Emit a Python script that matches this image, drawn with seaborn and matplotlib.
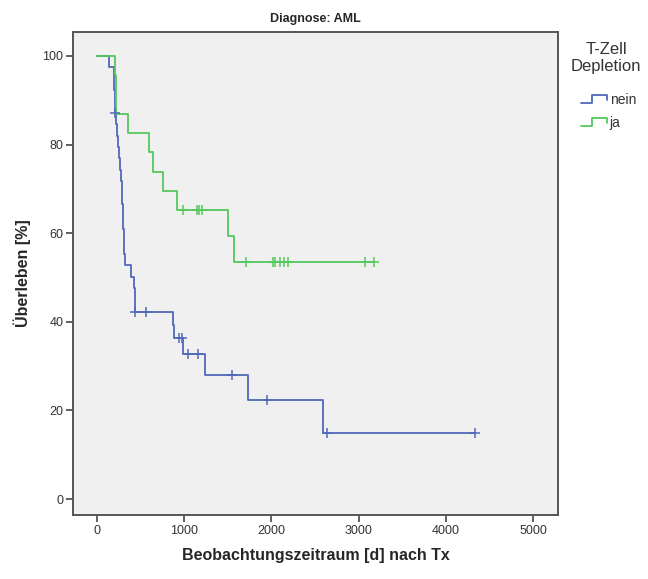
import numpy as np
import pandas as pd
import matplotlib
matplotlib.use("Agg")
import matplotlib.pyplot as plt
import seaborn as sns
from matplotlib.legend_handler import HandlerBase
from matplotlib.lines import Line2D

# ---- data ----
nein_time = [0, 138, 190, 197, 203, 208, 218, 228, 240, 250, 262, 275, 283, 290, 296,
             302, 306, 312, 318, 387, 428, 436, 868, 887, 990, 1239, 1735, 2588, 4338]
nein_surv = [100, 97.4, 94.9, 92.3, 89.7, 87.2, 84.6, 82.0, 79.5, 76.9, 74.3, 71.8, 69.2, 66.6, 64.1,
             61.0, 58.0, 55.4, 52.8, 50.2, 47.6, 42.3, 39.3, 36.3, 32.7, 28.0, 22.3, 14.9, 14.9]
nein_cens_time = [210, 440, 558, 944, 971, 1047, 1155, 1545, 1946, 2641, 4338]
nein_cens_surv = [87.2, 42.3, 42.3, 36.3, 36.3, 32.7, 32.7, 28.0, 22.3, 14.9, 14.9]

ja_time = [0, 205, 220, 352, 600, 639, 761, 921, 1506, 1571, 3177]
ja_surv = [100, 95.7, 87.0, 82.6, 78.3, 73.9, 69.6, 65.2, 59.3, 53.4, 53.4]
ja_cens_time = [985, 1143, 1175, 1205, 1712, 2022, 2041, 2099, 2144, 2194, 3073, 3177]
ja_cens_surv = [65.2, 65.2, 65.2, 65.2, 53.4, 53.4, 53.4, 53.4, 53.4, 53.4, 53.4, 53.4]

groups = ["nein", "ja"]
colors = {"nein": "#5068b8", "ja": "#55c85e"}
x_ticks = [0, 1000, 2000, 3000, 4000, 5000]
y_ticks = [0, 20, 40, 60, 80, 100]

curve = pd.DataFrame({
    "t": nein_time + ja_time,
    "s": nein_surv + ja_surv,
    "g": ["nein"] * len(nein_time) + ["ja"] * len(ja_time),
})
cens = pd.DataFrame({
    "t": nein_cens_time + ja_cens_time,
    "s": nein_cens_surv + ja_cens_surv,
    "g": ["nein"] * len(nein_cens_time) + ["ja"] * len(ja_cens_time),
})

sns.set_style("ticks", {"axes.facecolor": "#f0f0f0"})
plt.rcParams["font.family"] = ["Liberation Sans", "DejaVu Sans"]

fig = plt.figure(figsize=(6.48, 5.79), dpi=100)
ax = fig.add_axes([73 / 648, 1 - 515 / 579, (558 - 73) / 648, (515 - 32) / 579])

for g in groups:
    sub = curve[curve.g == g]
    sns.lineplot(data=sub, x="t", y="s", color=colors[g], drawstyle="steps-post",
                 estimator=None, sort=False, lw=1.3, ax=ax, legend=False)
    subc = cens[cens.g == g]
    sns.scatterplot(data=subc, x="t", y="s", color=colors[g], marker="+", s=50,
                    linewidth=1.1, ax=ax, legend=False, zorder=3)

ax.set_xlim(-275, 5287)
ax.set_ylim(-3.6, 105.4)
ax.set_xticks(x_ticks)
ax.set_yticks(y_ticks)
ax.tick_params(axis="both", direction="out", length=5, width=1.2, color="#444444",
               labelsize=9, labelcolor="#333333", pad=2)
for sp in ax.spines.values():
    sp.set_color("#555555")
    sp.set_linewidth(1.4)

ax.set_xlabel("Beobachtungszeitraum [d] nach Tx", fontsize=11.5, fontweight="bold", labelpad=8)
ax.set_ylabel("Überleben [%]", fontsize=11.5, fontweight="bold", labelpad=8)
ax.set_title("Diagnose: AML", fontsize=9, fontweight="bold", pad=7)


class StepHandler(HandlerBase):
    def create_artists(self, legend, orig_handle, xdescent, ydescent, width, height,
                       fontsize, trans):
        xs = np.array([0, 0.45, 0.45, 1.0, 1.0]) * width - xdescent
        ys = np.array([0.1, 0.1, 0.85, 0.85, 0.4]) * height - ydescent
        ln = Line2D(xs, ys, color=orig_handle.get_color(), lw=1.3, transform=trans)
        return [ln]


fig.text(606 / 648, 1 - 58 / 579, "T-Zell\nDepletion", ha="center", va="center",
         fontsize=12, color="#333333", linespacing=1.25, multialignment="center")

handles = [Line2D([], [], color=colors[g]) for g in groups]
leg = fig.legend(handles, groups, loc="upper left",
                 bbox_to_anchor=(568 / 648, 1 - 80 / 579), frameon=False,
                 fontsize=10, handlelength=1.9, handletextpad=0.2,
                 labelspacing=0.65, handler_map={Line2D: StepHandler()})
for t in leg.get_texts():
    t.set_color("#333333")

fig.savefig("out.png", dpi=100)
